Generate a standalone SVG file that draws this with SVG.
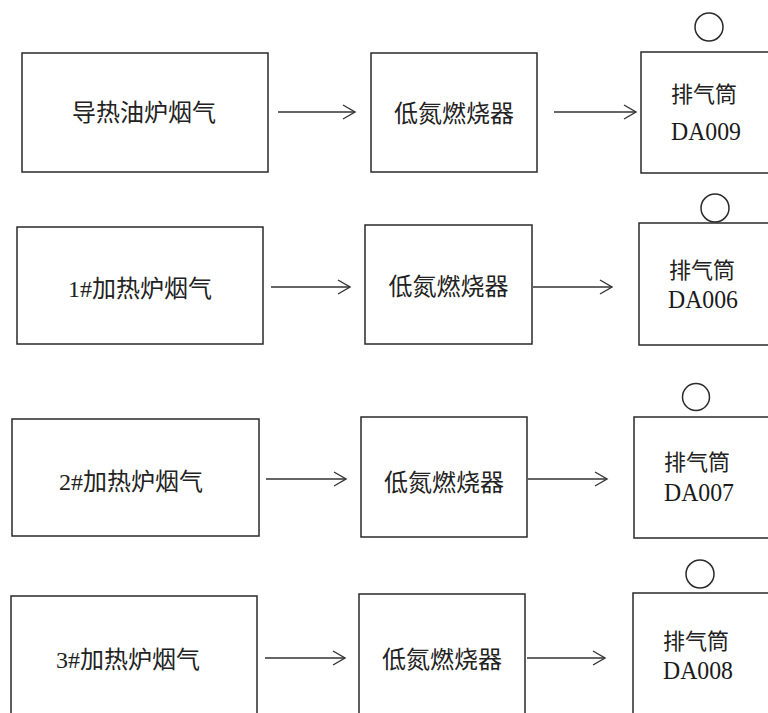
<svg xmlns="http://www.w3.org/2000/svg" width="768" height="713" viewBox="0 0 768 713">
<style>
.box{fill:#fff;stroke:#2a2a2a;stroke-width:1.5}
.stk{fill:none;stroke:#2a2a2a;stroke-width:1.5}
.lbl{font-family:"Liberation Serif","Noto Sans CJK SC",serif;font-size:24px;fill:#222}
.mid{text-anchor:middle}
.cn{font-family:"Noto Sans CJK SC",sans-serif;font-size:22px;fill:#222;text-anchor:middle}
.da{font-family:"Liberation Serif","Noto Sans CJK SC",serif;font-size:26px;fill:#1a1a1a;text-anchor:middle}
.con line{stroke:#333;stroke-width:1.4;marker-end:url(#ah)}
</style>
<defs>
<marker id="ah" markerUnits="userSpaceOnUse" markerWidth="16" markerHeight="18" refX="13" refY="8" orient="auto">
<path d="M1,1 L13,8 L1,15" fill="none" stroke="#333" stroke-width="1.4"/>
</marker>
</defs>
<rect width="768" height="713" fill="#fff"/>

<g id="src1"><rect class="box" x="22" y="53" width="246" height="119"/><text class="lbl mid" x="144" y="121">导热油炉烟气</text></g>
<g id="brn1"><rect class="box" x="371" y="53" width="166" height="119"/><text class="lbl mid" x="454" y="122">低氮燃烧器</text></g>
<g id="stk1"><rect class="box" x="641" y="52" width="140" height="121"/><circle class="stk" cx="709" cy="27" r="14"/><text class="cn" x="704" y="102">排气筒</text><text class="da" x="706" y="140" textLength="70" lengthAdjust="spacingAndGlyphs">DA009</text></g>

<g id="src2"><rect class="box" x="17" y="227" width="246" height="117"/><text class="lbl mid" x="140" y="297">1#加热炉烟气</text></g>
<g id="brn2"><rect class="box" x="365" y="225" width="167" height="119"/><text class="lbl mid" x="448.5" y="295">低氮燃烧器</text></g>
<g id="stk2"><rect class="box" x="639" y="223" width="140" height="122"/><circle class="stk" cx="715" cy="208" r="14"/><text class="cn" x="702" y="278">排气筒</text><text class="da" x="703" y="308" textLength="70" lengthAdjust="spacingAndGlyphs">DA006</text></g>

<g id="src3"><rect class="box" x="12" y="419" width="247" height="117"/><text class="lbl mid" x="131" y="490">2#加热炉烟气</text></g>
<g id="brn3"><rect class="box" x="361" y="417" width="166" height="120"/><text class="lbl mid" x="444" y="491">低氮燃烧器</text></g>
<g id="stk3"><rect class="box" x="634" y="417" width="140" height="121"/><circle class="stk" cx="696" cy="397" r="13.5"/><text class="cn" x="697" y="470">排气筒</text><text class="da" x="699" y="501" textLength="70" lengthAdjust="spacingAndGlyphs">DA007</text></g>

<g id="src4"><rect class="box" x="11" y="596" width="246" height="130"/><text class="lbl mid" x="128" y="668">3#加热炉烟气</text></g>
<g id="brn4"><rect class="box" x="359" y="594" width="166" height="130"/><text class="lbl mid" x="442" y="668">低氮燃烧器</text></g>
<g id="stk4"><rect class="box" x="633" y="593" width="140" height="130"/><circle class="stk" cx="700" cy="574" r="14"/><text class="cn" x="696" y="649">排气筒</text><text class="da" x="698" y="679" textLength="70" lengthAdjust="spacingAndGlyphs">DA008</text></g>

<g id="connectors" class="con">
<line x1="278" y1="112" x2="355" y2="112"/>
<line x1="554" y1="112" x2="636" y2="112"/>
<line x1="271" y1="287" x2="350" y2="287"/>
<line x1="533" y1="287" x2="612" y2="287"/>
<line x1="266" y1="479" x2="346" y2="479"/>
<line x1="528" y1="479" x2="607" y2="479"/>
<line x1="265" y1="658" x2="345" y2="658"/>
<line x1="527" y1="658" x2="605" y2="658"/>
</g>
</svg>
